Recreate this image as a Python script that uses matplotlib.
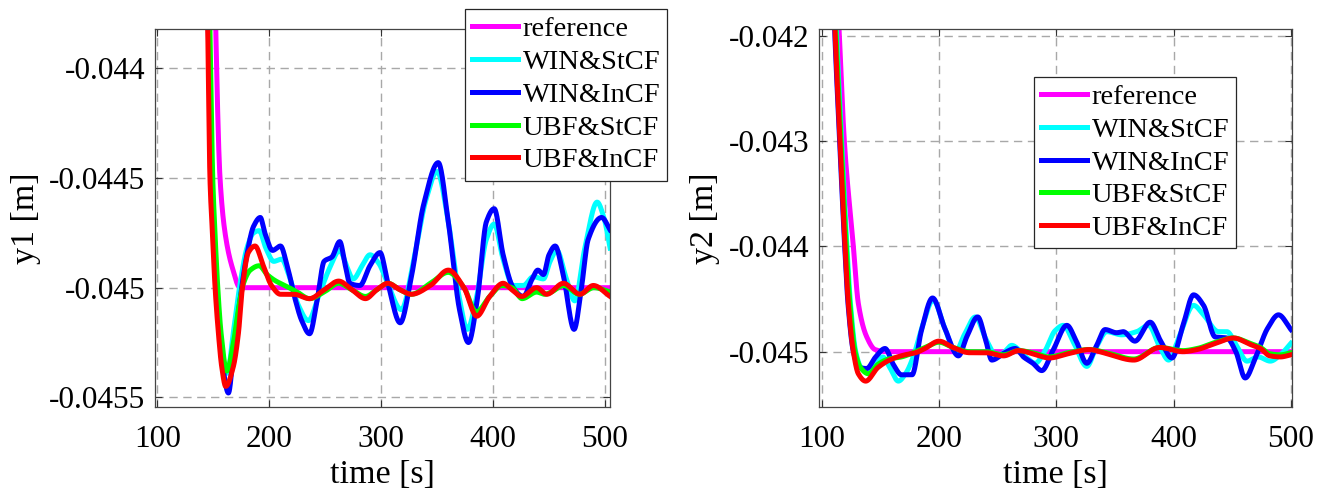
import numpy as np
import matplotlib
matplotlib.use("Agg")
import matplotlib.pyplot as plt

plt.rcParams['font.family'] = ['Liberation Serif', 'DejaVu Serif']
plt.rcParams['axes.unicode_minus'] = False

# ---- y1 (left panel) ----
t1_ref = [100, 144, 148, 152.2, 156, 160.5, 166.5, 174, 505]
y1_ref = [-0.0300, -0.0390, -0.0423, -0.04382, -0.0445, -0.04475, -0.0449, -0.0450, -0.0450]

t1_win_st = [100, 141.5, 146, 148.5, 150.5, 153, 156, 162.5, 168, 174, 180, 186, 191, 197, 204,
             211, 218, 226, 235, 244, 254, 263, 269, 275, 283, 290, 298, 305, 318, 330, 340,
             350, 360, 370, 377, 385, 394, 401, 409, 418, 427, 436, 445, 451, 457, 465, 473,
             482, 493, 499, 505]
y1_win_st = [-0.0300, -0.0425, -0.04382, -0.0446, -0.04475, -0.0450, -0.04522, -0.04539, -0.0452,
             -0.04498, -0.04482, -0.04475, -0.04474, -0.04482, -0.04488, -0.04487, -0.04495,
             -0.04508, -0.04515, -0.04504, -0.04491, -0.04483, -0.04490, -0.04496, -0.04490,
             -0.04485, -0.04489, -0.04497, -0.04510, -0.04485, -0.04460, -0.04447, -0.04470,
             -0.04505, -0.04519, -0.04505, -0.04478, -0.04471, -0.04487, -0.04499, -0.04499,
             -0.04495, -0.04496, -0.04488, -0.04483, -0.04495, -0.04506, -0.04482, -0.04461,
             -0.04468, -0.04483]

t1_win_in = [100, 141, 145.5, 148, 150, 152.5, 155.5, 158.5, 163.5, 168, 174, 180, 186, 192,
             196, 203, 210, 216, 223, 229, 236, 243, 249, 256, 263, 268, 272, 281, 290, 299,
             306, 317, 327, 338, 351, 360, 370, 378, 386, 394, 401, 409, 418, 427, 435, 440,
             445, 450, 455.5, 463, 472.4, 479, 485, 497, 505]
y1_win_in = [-0.0300, -0.0425, -0.04382, -0.0445, -0.04475, -0.0450, -0.04521, -0.04536,
             -0.04548, -0.0453, -0.04505, -0.04485, -0.04472, -0.04468, -0.04475, -0.04483,
             -0.04481, -0.04490, -0.04505, -0.04515, -0.04521, -0.04505, -0.04488, -0.04486,
             -0.04479, -0.04490, -0.04498, -0.04499, -0.04490, -0.04484, -0.04498, -0.04516,
             -0.04495, -0.04462, -0.04443, -0.04470, -0.04510, -0.04525, -0.04505, -0.04470,
             -0.04464, -0.04485, -0.04500, -0.04504, -0.04496, -0.04492, -0.04494, -0.04485,
             -0.04481, -0.04495, -0.04519, -0.04500, -0.04478, -0.04468, -0.04474]

t1_ubf_st = [100, 142, 147, 149.5, 151.5, 154, 157, 162, 168, 173, 177, 183, 191, 198, 206,
             214, 225, 236, 249, 262, 274, 286, 296, 306, 317, 327, 344, 360, 374, 385, 397,
             408, 417, 426, 439, 446, 452, 463, 477, 490, 505]
y1_ubf_st = [-0.0300, -0.0425, -0.04382, -0.0445, -0.04475, -0.0450, -0.04521, -0.04538,
             -0.04525, -0.04508, -0.04498, -0.04492, -0.04490, -0.04494, -0.04497, -0.04499,
             -0.04502, -0.04505, -0.04502, -0.04498, -0.04501, -0.04504, -0.04501, -0.04498,
             -0.04501, -0.04503, -0.04498, -0.04493, -0.04500, -0.04511, -0.04504, -0.04499,
             -0.04500, -0.04505, -0.04502, -0.04503, -0.04502, -0.04499, -0.04503, -0.04500,
             -0.04502]

t1_ubf_in = [100, 140, 145, 147, 149.2, 151.6, 154.6, 157.5, 161.1, 167.9, 172.4, 176, 181.3,
             187.3, 194.7, 202, 210, 222, 236, 249, 262, 274, 286, 296, 306, 317, 327, 344,
             360, 374, 385.4, 397, 409, 417, 425.6, 439, 448, 462.8, 477.7, 489.6, 504.6]
y1_ubf_in = [-0.0300, -0.0426, -0.04382, -0.0445, -0.04475, -0.0450, -0.04521, -0.04536,
             -0.04545, -0.04536, -0.04521, -0.0450, -0.04484, -0.04481, -0.04490, -0.04499,
             -0.04503, -0.04503, -0.04505, -0.04501, -0.04497, -0.04501, -0.04505, -0.04501,
             -0.04498, -0.04501, -0.04503, -0.04499, -0.04492, -0.04500, -0.04513, -0.04504,
             -0.04498, -0.04501, -0.04504, -0.04500, -0.04503, -0.04498, -0.04503, -0.04499,
             -0.04504]

# ---- y2 (right panel) ----
t2_ref = [100, 110, 114.8, 119.3, 127, 131.2, 138.4, 145.5, 155, 500]
y2_ref = [-0.0380, -0.0408, -0.04193, -0.0430, -0.0440, -0.04454, -0.04486, -0.04498, -0.0450, -0.0450]

t2_win_st = [100, 108, 112.5, 117, 121.5, 124.5, 129, 133.5, 139.8, 146, 152, 158, 165.3, 172,
             178, 186, 195, 205, 214, 222, 231, 240, 250, 256, 262, 268, 275, 282, 290, 299,
             306, 315, 326, 334, 343, 355.7, 368.5, 378.6, 388, 395.7, 405, 417, 425.5, 438.3,
             445.4, 454, 462.5, 472, 482.4, 491, 500]
y2_win_st = [-0.0370, -0.0405, -0.04193, -0.0430, -0.0440, -0.04454, -0.0450, -0.04515,
             -0.04519, -0.04512, -0.04505, -0.04515, -0.04528, -0.04520, -0.04505, -0.04475,
             -0.04451, -0.04478, -0.04500, -0.04483, -0.04467, -0.04488, -0.04505, -0.04500,
             -0.04494, -0.04498, -0.04506, -0.04511, -0.04500, -0.04480, -0.04475, -0.04492,
             -0.04514, -0.04496, -0.04481, -0.04484, -0.04481, -0.04475, -0.04495, -0.04508,
             -0.04485, -0.04456, -0.04465, -0.04481, -0.04481, -0.04495, -0.04509, -0.04505,
             -0.04509, -0.04503, -0.04492]

t2_win_in = [100, 107, 111, 115.3, 119.6, 122.4, 127, 132, 138.4, 146, 154, 161, 168, 177,
             185, 194.5, 205, 216.5, 224, 233, 240, 245, 256, 265, 272, 280, 287.6, 297.5,
             309, 317, 326, 334, 341.6, 351.4, 357, 367, 380, 389, 398.5, 408, 417, 425.5,
             435.4, 445.4, 453, 461, 470, 480, 489.4, 500]
y2_win_in = [-0.0370, -0.0405, -0.04193, -0.0430, -0.0440, -0.04454, -0.0450, -0.04515,
             -0.04516, -0.04505, -0.04497, -0.04512, -0.04522, -0.04522, -0.04480, -0.04449,
             -0.04478, -0.04504, -0.04485, -0.04467, -0.04490, -0.04508, -0.04501, -0.04497,
             -0.04505, -0.04511, -0.04518, -0.04498, -0.04475, -0.04490, -0.04511, -0.04495,
             -0.04479, -0.04482, -0.04481, -0.04490, -0.04472, -0.04490, -0.04506, -0.04475,
             -0.04446, -0.04456, -0.04486, -0.04487, -0.04500, -0.04525, -0.04505, -0.04478,
             -0.04465, -0.04479]

t2_ubf_st = [100, 107.5, 112, 116.5, 121, 124, 128.5, 133, 139.8, 148, 157, 168, 180, 190,
             200, 212, 226, 240, 255, 268, 280, 294, 310, 328, 343, 366, 388, 408, 420, 436,
             451, 465, 474, 482, 491, 500]
y2_ubf_st = [-0.0370, -0.0405, -0.04193, -0.0430, -0.0440, -0.04454, -0.0450, -0.04515,
             -0.04521, -0.04512, -0.04507, -0.04505, -0.04500, -0.04495, -0.04491, -0.04496,
             -0.04500, -0.04500, -0.04503, -0.04499, -0.04501, -0.04505, -0.04501, -0.04498,
             -0.04501, -0.04507, -0.04496, -0.04499, -0.04497, -0.04491, -0.04487, -0.04492,
             -0.04496, -0.04502, -0.04503, -0.04501]

t2_ubf_in = [100, 107, 111.3, 115.6, 119.9, 122.7, 127, 131.2, 137.5, 148, 159.7, 171, 180,
             188, 200, 212, 226, 240, 255, 268, 280, 294, 310, 328, 343, 366, 388, 408, 420,
             436, 451, 465, 474, 482, 491, 500]
y2_ubf_in = [-0.0370, -0.0405, -0.04193, -0.0430, -0.0440, -0.04454, -0.0450, -0.04521,
             -0.04528, -0.04515, -0.04507, -0.04503, -0.04501, -0.04497, -0.04490, -0.04496,
             -0.04501, -0.04501, -0.04504, -0.04499, -0.04502, -0.04506, -0.04502, -0.04498,
             -0.04502, -0.04508, -0.04496, -0.04500, -0.04498, -0.04492, -0.04487, -0.04493,
             -0.04497, -0.04504, -0.04505, -0.04503]

labels = ['reference', 'WIN&StCF', 'WIN&InCF', 'UBF&StCF', 'UBF&InCF']
colors = ['#ff00ff', '#00ffff', '#0000ff', '#00ff00', '#ff0000']

x_ticks = [100, 200, 300, 400, 500]
y1_ticks = [-0.0455, -0.045, -0.0445, -0.044]
y1_ticklabels = ['-0.0455', '-0.045', '-0.0445', '-0.044']
y2_ticks = [-0.045, -0.044, -0.043, -0.042]
y2_ticklabels = ['-0.045', '-0.044', '-0.043', '-0.042']


def pchip(x, y, xn):
    # shape preserving cubic, only used to draw the read points as a smooth line
    x = np.asarray(x, float)
    y = np.asarray(y, float)
    h = np.diff(x)
    d = np.diff(y) / h
    m = np.zeros_like(y)
    for k in range(1, len(x) - 1):
        if d[k - 1] * d[k] > 0:
            w1 = 2 * h[k] + h[k - 1]
            w2 = h[k] + 2 * h[k - 1]
            m[k] = (w1 + w2) / (w1 / d[k - 1] + w2 / d[k])
    m[0] = d[0]
    m[-1] = d[-1]
    i = np.clip(np.searchsorted(x, xn) - 1, 0, len(h) - 1)
    s = (xn - x[i]) / h[i]
    return ((2 * s**3 - 3 * s**2 + 1) * y[i] + (s**3 - 2 * s**2 + s) * h[i] * m[i]
            + (-2 * s**3 + 3 * s**2) * y[i + 1] + (s**3 - s**2) * h[i] * m[i + 1])


def draw(ax, series, xlim, ylim, yticks, yticklabels, ylabel, legend_anchor):
    for (t, y), lab, c in zip(series, labels, colors):
        tn = np.linspace(t[0], t[-1], 2000)
        ax.plot(tn, pchip(t, y, tn), color=c, lw=3.6, label=lab)
    ax.set_xlim(*xlim)
    ax.set_ylim(*ylim)
    ax.set_xticks(x_ticks)
    ax.set_xticklabels([str(v) for v in x_ticks])
    ax.set_yticks(yticks)
    ax.set_yticklabels(yticklabels)
    ax.grid(True, color='#a8a8a8', linestyle=(0, (6, 4)), lw=1)
    ax.tick_params(direction='in', length=5, width=0.8, top=True, right=True,
                   labelsize=22.5, color='#333333')
    ax.tick_params(axis='x', pad=13)
    ax.tick_params(axis='y', pad=7)
    for sp in ax.spines.values():
        sp.set_color('#444444')
        sp.set_linewidth(0.9)
    ax.set_xlabel('time [s]', fontsize=24.5, labelpad=4)
    ax.set_ylabel(ylabel, fontsize=24.5, labelpad=6)
    leg = ax.legend(loc='upper left', bbox_to_anchor=legend_anchor,
                    bbox_transform=ax.figure.transFigure, fontsize=20.5,
                    frameon=True, fancybox=False, framealpha=1, borderpad=0.25,
                    labelspacing=0.24, handlelength=1.6, handletextpad=0.17,
                    borderaxespad=0)
    leg.get_frame().set_edgecolor('#262626')
    leg.get_frame().set_linewidth(0.9)


W, H = 1323, 498
fig = plt.figure(figsize=(W / 100, H / 100), dpi=100)
ax1 = fig.add_axes([155 / W, 1 - 407 / H, 455 / W, 377.7 / H])
ax2 = fig.add_axes([819 / W, 1 - 407 / H, 473 / W, 377.7 / H])

draw(ax1,
     [(t1_ref, y1_ref), (t1_win_st, y1_win_st), (t1_win_in, y1_win_in),
      (t1_ubf_st, y1_ubf_st), (t1_ubf_in, y1_ubf_in)],
     (97.9, 504.5), (-0.045544, -0.043822), y1_ticks, y1_ticklabels, 'y1 [m]',
     (465 / W, 1 - 9.3 / H))
draw(ax2,
     [(t2_ref, y2_ref), (t2_win_st, y2_win_st), (t2_win_in, y2_win_in),
      (t2_ubf_st, y2_ubf_st), (t2_ubf_in, y2_ubf_in)],
     (97.7, 500.9), (-0.045526, -0.041936), y2_ticks, y2_ticklabels, 'y2 [m]',
     (1034 / W, 1 - 77 / H))

fig.savefig('out.png', dpi=100, facecolor='white')
